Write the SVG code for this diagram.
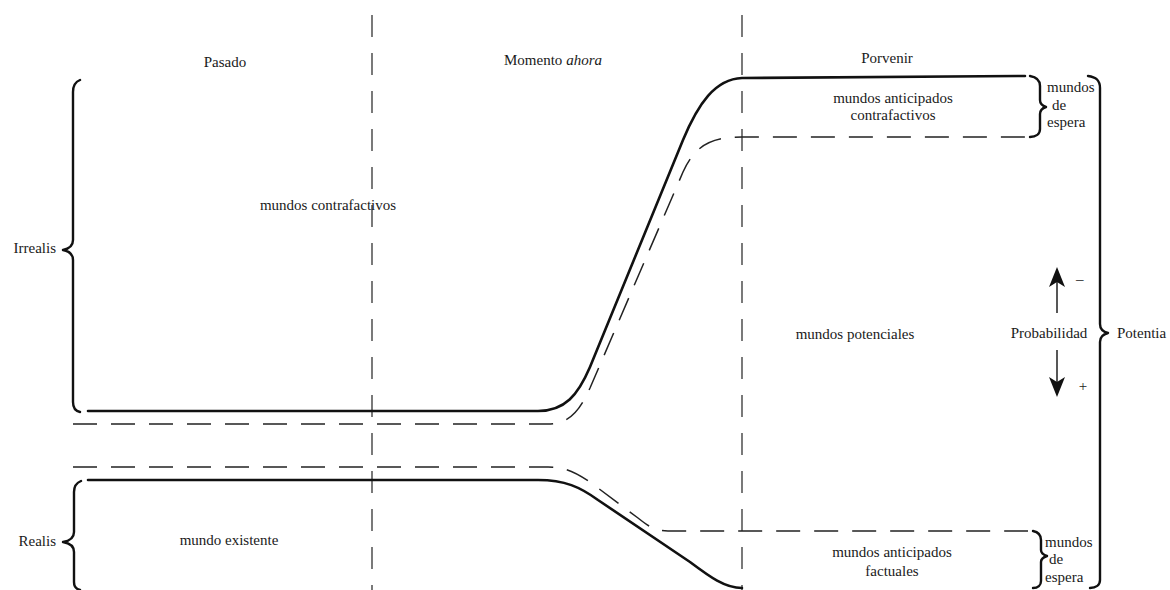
<svg xmlns="http://www.w3.org/2000/svg" width="1170" height="590" viewBox="0 0 1170 590">
<style>
text{font-family:"Liberation Serif","Times New Roman",serif;font-size:15px;fill:#1a1a1a}
.c{text-anchor:middle}
.e{text-anchor:end}
.solid{fill:none;stroke:#111;stroke-width:2.6;stroke-linecap:round;stroke-linejoin:round}
.dash{fill:none;stroke:#222;stroke-width:1.5;stroke-dasharray:24 14}
.vdash{fill:none;stroke:#333;stroke-width:1.3;stroke-dasharray:22 16}
.brace{fill:none;stroke:#111;stroke-width:2.4;stroke-linecap:round;stroke-linejoin:round}
.thin{fill:none;stroke:#111;stroke-width:1.4}
</style>
<rect width="1170" height="590" fill="#fff"/>
<g id="time-dividers">
<path class="vdash" d="M372,15 V590"/>
<path class="vdash" d="M742,15 V590"/>
</g>
<g id="headers">
<text class="c" x="225" y="67">Pasado</text>
<text class="c" x="553" y="65">Momento <tspan font-style="italic">ahora</tspan></text>
<text class="c" x="887" y="63">Porvenir</text>
</g>
<g id="connectors">
<path class="solid" d="M88,411 L538,411 C565,411 578,395 590,367 L683,140 C698,104 715,79 742,78 L1025,76"/>
<path class="dash" d="M73,424 L548,424 C570,424 580,410 590,388 L683,172 C695,145 712,137 742,137 L1030,137"/>
<path class="dash" d="M73,467 L548,467 C565,467 575,472 590,482 L638,518 C648,526 655,531 668,531 L1028,531"/>
<path class="solid" d="M88,480 L538,480 C565,480 580,487 598,500 L690,562 C710,577 725,588 742,588"/>
</g>
<g id="irrealis">
<path class="brace" d="M80,80 C75,82 73,86 73,92 L73,240 C73,246 68,249 63,250 C68,251 73,254 73,260 L73,402 C73,408 75,411 80,412"/>
<text class="e" x="56" y="253">Irrealis</text>
</g>
<g id="realis">
<path class="brace" d="M81,481 C76,483 74,486 74,492 L74,532 C74,538 69,541 63,542 C69,543 74,546 74,552 L74,582 C74,586 76,589 80,590"/>
<text class="e" x="56" y="546">Realis</text>
</g>
<g id="mundos-contrafactivos">
<text class="c" x="328" y="210">mundos contrafactivos</text>
</g>
<g id="mundo-existente">
<text class="c" x="229" y="545">mundo existente</text>
</g>
<g id="anticipados-contrafactivos">
<text class="c" x="893" y="103">mundos anticipados</text>
<text class="c" x="893" y="120">contrafactivos</text>
</g>
<g id="espera-top">
<path class="brace" d="M1030,76 C1036,77 1040,80 1040,86 L1040,100 C1040,104 1043,106 1046,107 C1043,108 1040,110 1040,114 L1040,129 C1040,134 1036,137 1030,137"/>
<text x="1047" y="92">mundos</text>
<text x="1052" y="110">de</text>
<text x="1047" y="127">espera</text>
</g>
<g id="mundos-potenciales">
<text class="c" x="855" y="339">mundos potenciales</text>
</g>
<g id="probabilidad">
<path class="thin" d="M1057,313 V282"/>
<path d="M1057,267 L1065,287 L1057,282 L1049,287 Z" fill="#111"/>
<text x="1076" y="284">–</text>
<text class="c" x="1049" y="338">Probabilidad</text>
<path class="thin" d="M1057,350 V382"/>
<path d="M1057,397 L1065,377 L1057,382 L1049,377 Z" fill="#111"/>
<text class="c" x="1083" y="391">+</text>
</g>
<g id="anticipados-factuales">
<text class="c" x="892" y="557">mundos anticipados</text>
<text class="c" x="892" y="576">factuales</text>
</g>
<g id="espera-bottom">
<path class="brace" d="M1033,531 C1038,532 1041,535 1041,540 L1041,550 C1041,553 1044,555 1047,556 C1044,557 1041,559 1041,562 L1041,581 C1041,585 1038,588 1033,588"/>
<text x="1045" y="547">mundos</text>
<text x="1049" y="564">de</text>
<text x="1045" y="582">espera</text>
</g>
<g id="potentia">
<path class="brace" d="M1088,76 C1096,77 1100,80 1100,88 L1100,324 C1100,329 1104,332 1108,333 C1104,334 1100,337 1100,342 L1100,580 C1100,585 1096,588 1090,588"/>
<text x="1117" y="338">Potentia</text>
</g>
</svg>
